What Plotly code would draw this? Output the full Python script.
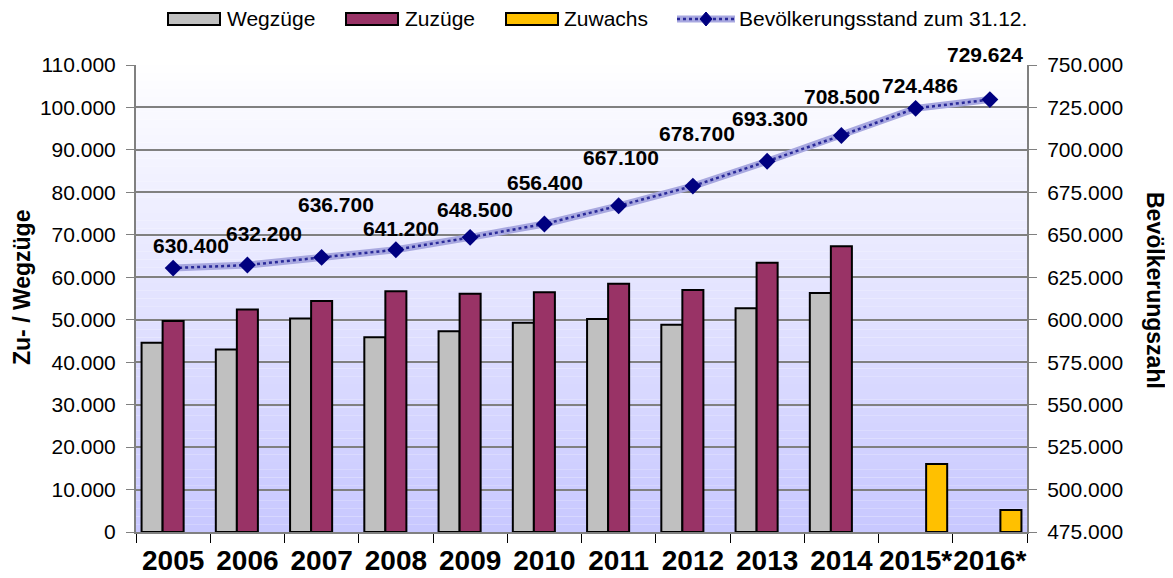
import plotly.graph_objects as go

years = ["2005", "2006", "2007", "2008", "2009", "2010", "2011", "2012", "2013", "2014", "2015*", "2016*"]
wegzuege = [44600, 43000, 50300, 45900, 47300, 49300, 50200, 48800, 52700, 56300, None, None]
zuzuege = [49700, 52400, 54400, 56700, 56100, 56500, 58500, 57000, 63400, 67300, None, None]
zuwachs = [None, None, None, None, None, None, None, None, None, None, 16000, 5200]
bevoelkerung = [630400, 632200, 636700, 641200, 648500, 656400, 667100, 678700, 693300, 708500, 724486, 729624]
bev_labels = ["630.400", "632.200", "636.700", "641.200", "648.500", "656.400", "667.100",
              "678.700", "693.300", "708.500", "724.486", "729.624"]
series_names = ["Wegzüge", "Zuzüge", "Zuwachs", "Bevölkerungsstand zum 31.12."]
# label placement offsets (px) relative to each marker
label_dx = [18, 17, 14, 5, 5, 1, 2, 4, 3, 1, 4, -5]
label_dy = [23, 32, 53, 21, 28, 41, 48, 53, 43, 39, 23, 45]

FONT = "Liberation Sans, Arial, sans-serif"
OFF = 8  # page body margin
W, H = 1173 - OFF, 578 - OFF
ML, MR, MT, MB = 136 - OFF, 146, 65 - OFF, 46
PW, PH = W - ML - MR, H - MT - MB

def px(x):
    return (x - OFF - ML) / PW

def py(y):
    return (H - MB - (y - OFF)) / PH

GREY, PURPLE, GOLD = "#c0c0c0", "#993366", "#ffc000"
LINE_BASE, LINE_DOT, NAVY = "#a8a8e0", "#2a2a99", "#000080"

fig = go.Figure()
fig.add_trace(go.Bar(x=years, y=wegzuege, name=series_names[0],
                     marker=dict(color=GREY, line=dict(color="black", width=2))))
fig.add_trace(go.Bar(x=years, y=zuzuege, name=series_names[1],
                     marker=dict(color=PURPLE, line=dict(color="black", width=2))))
fig.add_trace(go.Bar(x=years, y=zuwachs, name=series_names[2],
                     marker=dict(color=GOLD, line=dict(color="black", width=2))))
fig.add_trace(go.Scatter(x=years, y=bevoelkerung, yaxis="y2", name=series_names[3],
                         mode="lines", line=dict(color=LINE_BASE, width=7)))
fig.add_trace(go.Scatter(x=years, y=bevoelkerung, yaxis="y2", hoverinfo="skip",
                         mode="lines", line=dict(color=LINE_DOT, width=2.5, dash="dot")))
fig.add_trace(go.Scatter(x=years, y=bevoelkerung, yaxis="y2", hoverinfo="skip",
                         mode="markers", marker=dict(symbol="diamond", size=13, color=NAVY)))

# gradient plot background
N = 60
shapes = []
for i in range(N):
    t = (i + 0.5) / N  # 0 bottom, 1 top
    r = int(200 + (255 - 200) * t)
    g = int(200 + (255 - 200) * t)
    shapes.append(dict(type="rect", xref="x domain", yref="y domain",
                       x0=0, x1=1, y0=i / N, y1=(i + 1) / N,
                       fillcolor=f"rgb({r},{g},255)", line=dict(width=0), layer="below"))

annotations = []
for i, (v, txt, dx, dy) in enumerate(zip(bevoelkerung, bev_labels, label_dx, label_dy)):
    annotations.append(dict(x=i, y=v, xref="x", yref="y2", text=txt, showarrow=False,
                            xshift=dx, yshift=dy,
                            font=dict(family=FONT, size=21, color="black", weight="bold")))
annotations.append(dict(x=px(22), y=py(288), xref="paper", yref="paper", text="Zu- / Wegzüge",
                        textangle=-90, showarrow=False, xanchor="center", yanchor="middle",
                        font=dict(family=FONT, size=23, color="black", weight="bold")))
annotations.append(dict(x=px(1155), y=py(290), xref="paper", yref="paper", text="Bevölkerungszahl",
                        textangle=90, showarrow=False, xanchor="center", yanchor="middle",
                        font=dict(family=FONT, size=23, color="black", weight="bold")))

# manual legend (layout: boxes and texts at the top)
legend_y = 19
box_x = [168, 346, 506]
box_w = 52
text_x = [225, 403, 562, 737]
for bx, col in zip(box_x, [GREY, PURPLE, GOLD]):
    shapes.append(dict(type="rect", xref="paper", yref="paper",
                       x0=px(bx), x1=px(bx + box_w), y0=py(legend_y + 6), y1=py(legend_y - 6),
                       fillcolor=col, line=dict(color="black", width=2), layer="above"))
shapes.append(dict(type="line", xref="paper", yref="paper", x0=px(677), x1=px(735),
                   y0=py(legend_y), y1=py(legend_y), line=dict(color=LINE_BASE, width=7), layer="above"))
shapes.append(dict(type="line", xref="paper", yref="paper", x0=px(677), x1=px(735),
                   y0=py(legend_y), y1=py(legend_y), line=dict(color=LINE_DOT, width=2.5, dash="dot"),
                   layer="above"))
cx, cy = px(706), py(legend_y)
dxp, dyp = 6 / PW, 7 / PH
shapes.append(dict(type="path", xref="paper", yref="paper",
                   path=f"M {cx - dxp} {cy} L {cx} {cy + dyp} L {cx + dxp} {cy} L {cx} {cy - dyp} Z",
                   fillcolor=NAVY, line=dict(color=NAVY, width=1), layer="above"))
for tx, name in zip(text_x, series_names):
    annotations.append(dict(x=px(tx), y=py(legend_y), xref="paper", yref="paper", text=name,
                            xanchor="left", yanchor="middle", showarrow=False,
                            font=dict(family=FONT, size=21, color="black")))

fig.update_layout(
    width=W, height=H,
    margin=dict(l=ML, r=MR, t=MT, b=MB, autoexpand=False),
    paper_bgcolor="white", plot_bgcolor="rgba(0,0,0,0)",
    separators=",.",
    barmode="group", bargap=0.15, bargroupgap=0,
    font=dict(family=FONT, color="black"),
    shapes=shapes, annotations=annotations,
    showlegend=False,
    xaxis=dict(type="category", range=[-0.5, 11.5], autorange=False,
               tickson="boundaries", ticks="outside", ticklen=9,
               tickcolor="black", showline=True, linecolor="#808080", linewidth=2,
               tickangle=0, ticklabelstandoff=2,
               tickfont=dict(family=FONT, size=28, color="black", weight="bold"),
               showgrid=False),
    yaxis=dict(range=[0, 110000], dtick=10000, tickformat=",d", ticks="outside", ticklen=8,
               tickcolor="#808080", showline=True, linecolor="#808080", linewidth=2,
               showgrid=True, gridcolor="#808080", gridwidth=1.5, zeroline=False,
               ticklabelstandoff=6,
               tickfont=dict(family=FONT, size=21, color="black")),
    yaxis2=dict(range=[475000, 750000], dtick=25000, tickformat=",d", overlaying="y", side="right",
                ticks="outside", ticklen=8, tickcolor="#808080", showline=True,
                linecolor="#808080", linewidth=2, showgrid=False, zeroline=False,
                ticklabelstandoff=6,
                tickfont=dict(family=FONT, size=21, color="black")),
)

fig.write_html("out.html")
